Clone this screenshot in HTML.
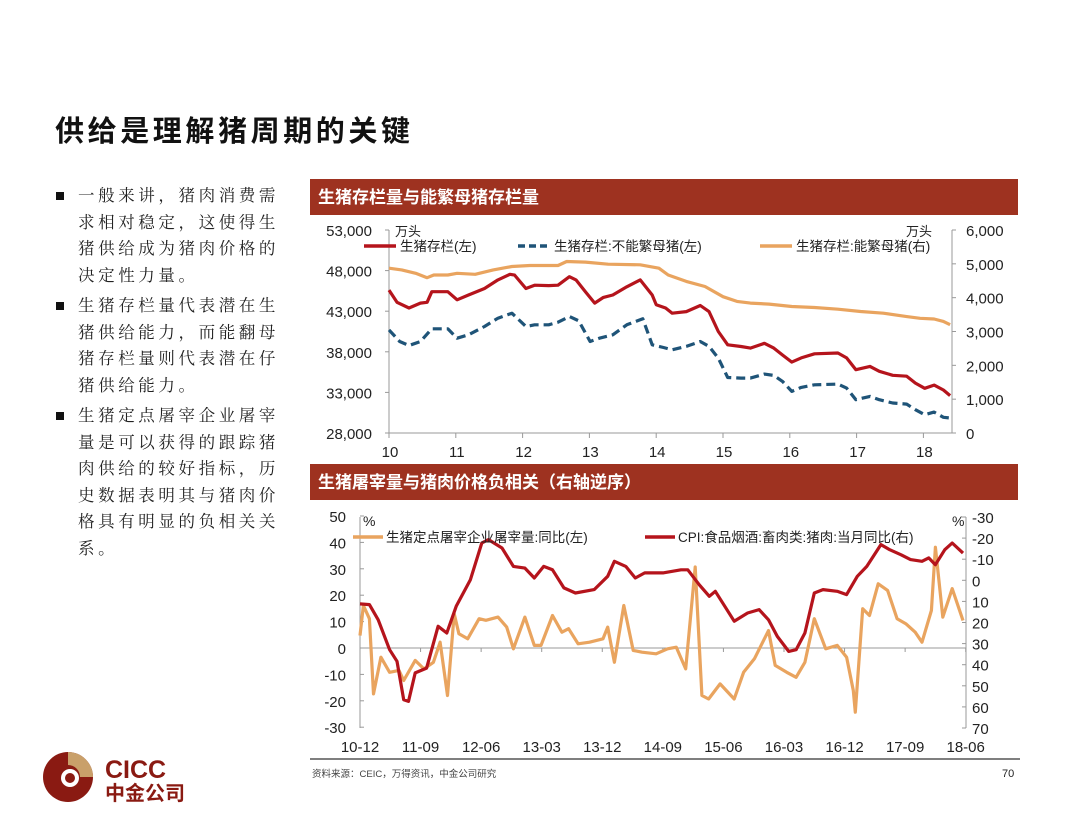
<!DOCTYPE html>
<html><head><meta charset="utf-8">
<style>
html,body{margin:0;padding:0;background:#fff;}
body{width:1080px;height:834px;overflow:hidden;position:relative;font-family:"Liberation Sans","Noto Sans CJK SC",sans-serif;}
.title{position:absolute;left:55px;top:108px;font-size:29px;font-weight:bold;color:#111;font-family:"Liberation Sans","Noto Sans CJK SC",sans-serif;letter-spacing:3.6px;}
.bullets{position:absolute;left:52px;top:183px;width:240px;font-family:"Liberation Serif","Noto Serif CJK SC",serif;font-size:16.5px;line-height:26.5px;color:#222;letter-spacing:3.6px;}
.bullets .b{position:relative;padding-left:26px;margin-bottom:4px;}
.bullets .b:before{content:"";position:absolute;left:4px;top:9px;width:8px;height:8px;background:#111;}
svg text{font-family:"Liberation Sans","Noto Sans CJK SC",sans-serif;}
</style></head><body>
<div class="title">供给是理解猪周期的关键</div>
<div class="bullets">
<div class="b">一般来讲，猪肉消费需求相对稳定，这使得生猪供给成为猪肉价格的决定性力量。</div>
<div class="b">生猪存栏量代表潜在生猪供给能力，而能翻母猪存栏量则代表潜在仔猪供给能力。</div>
<div class="b">生猪定点屠宰企业屠宰量是可以获得的跟踪猪肉供给的较好指标，历史数据表明其与猪肉价格具有明显的负相关关系。</div>
</div>
<svg id="s" width="1080" height="834" style="position:absolute;left:0;top:0">
<rect x="310" y="179" width="708" height="36" fill="#9e3220"/>
<text x="318" y="203" fill="#fff" font-size="17" font-weight="bold">生猪存栏量与能繁母猪存栏量</text>
<rect x="310" y="464" width="708" height="36" fill="#9e3220"/>
<text x="318" y="488" fill="#fff" font-size="17" font-weight="bold">生猪屠宰量与猪肉价格负相关（右轴逆序）</text>
<line x1="310" y1="759" x2="1020" y2="759" stroke="#333" stroke-width="1.2"/>
<text x="312" y="777" font-size="9.5" fill="#444">资料来源：CEIC，万得资讯，中金公司研究</text>
<text x="1002" y="777" font-size="11" fill="#222">70</text>
<g>
<circle cx="68" cy="777" r="25" fill="#8a1a12"/>
<path d="M68 752 A25 25 0 0 1 93 777 L80 777 A12 12 0 0 0 68 765 Z" fill="#c9a06a"/>
<circle cx="70" cy="778" r="9" fill="#fff"/>
<circle cx="70" cy="778" r="5" fill="#8a1a12"/>
<text x="105" y="778" font-size="25" font-weight="bold" fill="#8a1a12">CICC</text>
<text x="105" y="800" font-size="20" font-weight="bold" fill="#8a1a12">中金公司</text>
</g>
<g id="c1"></g>
<g id="c2"></g>
</svg>
<script>
// ---- Chart 1 data ----
const c1RedX=[10.00,10.12,10.30,10.47,10.57,10.64,10.88,11.02,11.19,11.43,11.63,11.81,11.88,12.05,12.18,12.39,12.53,12.70,12.80,12.94,13.08,13.21,13.35,13.56,13.76,13.94,14.00,14.14,14.24,14.45,14.66,14.79,14.93,15.07,15.27,15.41,15.62,15.76,15.89,16.03,16.17,16.37,16.72,16.85,16.99,17.20,17.34,17.54,17.75,17.88,18.02,18.16,18.30,18.40];
const c1RedY=[45600,44100,43400,44000,44100,45400,45400,44400,45000,45800,46850,47550,47450,45800,46200,46150,46200,47250,46850,45400,44000,44700,45000,46000,46850,45000,43800,43400,42750,42950,43700,42950,40500,38860,38650,38450,39050,38450,37600,36730,37250,37750,37850,37250,35800,36200,35600,35100,35000,34150,33500,33900,33300,32600];
const c1BlueX=[10.00,10.16,10.30,10.47,10.64,10.88,11.02,11.19,11.43,11.63,11.84,12.05,12.18,12.39,12.53,12.70,12.84,13.01,13.15,13.35,13.56,13.80,13.94,14.11,14.24,14.45,14.66,14.79,14.93,15.07,15.27,15.41,15.62,15.76,15.89,16.03,16.17,16.37,16.72,16.85,16.99,17.20,17.34,17.54,17.75,17.88,18.02,18.16,18.30,18.40];
const c1BlueY=[40700,39270,38780,39270,40830,40830,39680,40090,41110,42140,42750,41110,41320,41320,41640,42350,41820,39270,39680,40090,41320,42060,38860,38530,38250,38660,39270,38660,37220,34840,34760,34760,35250,35090,34350,33120,33610,33940,34020,33530,32100,32510,32100,31690,31560,30870,30250,30580,29930,29850];
const c1OrX=[10.00,10.19,10.40,10.57,10.67,10.88,11.02,11.29,11.56,11.84,12.11,12.53,12.66,12.94,13.28,13.76,14.04,14.18,14.45,14.73,15.00,15.21,15.41,15.69,16.03,16.37,16.72,17.06,17.40,17.75,17.95,18.16,18.30,18.40];
const c1OrY=[4870,4820,4720,4590,4670,4670,4720,4690,4820,4920,4950,4950,5070,5050,4990,4970,4870,4670,4480,4330,4030,3890,3840,3810,3740,3710,3660,3590,3540,3440,3390,3370,3300,3200];
const c1LeftTicks=[28000,33000,38000,43000,48000,53000];
const c1RightTicks=[0,1000,2000,3000,4000,5000,6000];
const c1YearTicks=[10,11,12,13,14,15,16,17,18];
// ---- Chart 2 data (month index from 2010-12) ----
const c2CpiM=[0,1.4,2.7,4.4,5.5,6.5,7.2,8.2,9.9,11.6,12.9,14.3,16.4,18.1,19.1,21.1,22.8,24.5,25.9,27.3,28.6,30.3,32,34.8,36.8,37.8,39.5,40.9,42.3,45,47.7,48.7,50.4,51.9,52.8,54.2,55.6,57.6,59.3,60.7,62,63.7,64.8,66.1,67.5,68.8,70.9,72.3,73.9,75.3,77.4,78.7,80.4,81.8,83.5,84.5,85.5,86.9,88,89.6];
const c2CpiV=[11.2,11.5,18.7,32.9,38.4,56.6,57.4,43.9,41.6,21.8,25,12.3,-0.3,-17.7,-19.3,-15.3,-6.6,-5.8,-1.1,-6.6,-5,3.6,6,4.4,-1.9,-9,-6.6,-1.1,-3.5,-3.5,-5,-5,2.1,7.6,5.2,12.3,19.4,15.5,13.9,18.7,26.6,33.7,32.9,25,6,4.4,5.2,6.8,-1.9,-6.6,-16.9,-14.5,-12.1,-9.8,-9,-10.6,-7.4,-14.5,-17.7,-12.9];
const c2SlM=[0,0.5,1.4,2,3.1,4.4,5.8,6.5,8.2,9.5,10.9,11.9,13,14,14.7,16,17.7,18.7,20.5,21.8,22.8,24.5,25.9,26.9,28.6,30,31,32.4,34.1,36.1,36.8,37.8,39.2,40.6,41.9,44,45.7,47,48.4,49.8,50.8,51.8,53.5,55.6,57,58.6,60.7,61.7,63.4,64.8,66.1,67.5,69.2,70.9,72.3,73.3,73.6,74.7,75.7,77,78.4,79.8,81.1,82.5,83.5,84.9,85.5,86.6,88,89.6];
const c2SlV=[4.7,16.1,11.1,-17.4,-3.5,-9.2,-8.5,-12.3,-4.7,-7.9,-5.4,2.2,-18,13,5.4,3.5,11.1,10.5,11.7,7.9,-0.3,11.7,1,1,12.3,6,7.3,1.6,2.2,3.5,7.9,-5.4,16.1,-0.9,-1.6,-2.2,-0.3,0.3,-7.9,30.7,-18,-19.3,-13.6,-19.3,-9.2,-4.1,6.6,-6.6,-9.2,-11.1,-5.4,11.1,-0.3,1,-3.5,-16.1,-24.3,14.9,12.3,24.3,21.8,11.1,9.2,6,2.2,14.2,38.2,11.7,22.5,10.4];
const c2LeftTicks=[-30,-20,-10,0,10,20,30,40,50];
const c2RightTicks=[-30,-20,-10,0,10,20,30,40,50,60,70];
const c2XLabels=['10-12','11-09','12-06','13-03','13-12','14-09','15-06','16-03','16-12','17-09','18-06'];

const NS='http://www.w3.org/2000/svg';
function mk(parent,tag,attrs,txt){const e=document.createElementNS(NS,tag);for(const k in attrs)e.setAttribute(k,attrs[k]);if(txt!==undefined)e.textContent=txt;parent.appendChild(e);return e;}
function pathD(xs,ys,fx,fy){return xs.map((x,i)=>(i?'L':'M')+fx(x).toFixed(1)+' '+fy(ys[i]).toFixed(1)).join(' ');}

// Chart 1
const g1=document.getElementById('c1');
const X1=v=>389+(v-10)*66.8;
const YL1=v=>433-(v-28000)/25000*203;
const YR1=v=>433-v/6000*203;
let e;
e=mk(g1,'path',{d:'M389 230 L389 433 L952 433 L952 230',fill:'none',stroke:'#999','stroke-width':1});


c1LeftTicks.forEach(t=>{
  e=mk(g1,'text',{x:372,y:YL1(t)+6,'font-size':15,'text-anchor':'end',fill:'#222'},t.toLocaleString('en-US'));
  
  
  mk(g1,'line',{x1:385,x2:389,y1:YL1(t),y2:YL1(t),stroke:'#999'});
});
c1RightTicks.forEach(t=>{
  e=mk(g1,'text',{x:966,y:YR1(t)+6,'font-size':15,fill:'#222'},t.toLocaleString('en-US'));
  
  
  mk(g1,'line',{x1:952,x2:956,y1:YR1(t),y2:YR1(t),stroke:'#999'});
});
c1YearTicks.forEach(t=>{
  e=mk(g1,'text',{x:X1(t)+1,y:457,'font-size':15,'text-anchor':'middle',fill:'#222'},String(t));
  
  
  mk(g1,'line',{x1:X1(t),x2:X1(t),y1:433,y2:438,stroke:'#999'});
});
e=mk(g1,'path',{d:pathD(c1OrX,c1OrY,X1,YR1),fill:'none',stroke:'#e9a45f','stroke-width':3.2,'stroke-linejoin':'round'});


e=mk(g1,'path',{d:pathD(c1BlueX,c1BlueY,X1,YL1),fill:'none',stroke:'#1f5478','stroke-width':3.2,'stroke-dasharray':'9 5','stroke-linejoin':'round'});


e=mk(g1,'path',{d:pathD(c1RedX,c1RedY,X1,YL1),fill:'none',stroke:'#b5141c','stroke-width':3.2,'stroke-linejoin':'round'});


e=mk(g1,'text',{x:395,y:236,'font-size':13,fill:'#222'},'万头');


e=mk(g1,'text',{x:906,y:236,'font-size':13,fill:'#222'},'万头');


const leg1=[[364,'#b5141c','','生猪存栏(左)'],[518,'#1f5478','7 4','生猪存栏:不能繁母猪(左)'],[760,'#e9a45f','','生猪存栏:能繁母猪(右)']];
leg1.forEach(l=>{
  e=mk(g1,'line',{x1:l[0],x2:l[0]+32,y1:246,y2:246,stroke:l[1],'stroke-width':3.5,'stroke-dasharray':l[2]||'none'});
  
  
  e=mk(g1,'text',{x:l[0]+36,y:251,'font-size':13.5,fill:'#222'},l[3]);
  
  
});

// Chart 2
const g2=document.getElementById('c2');
const X2=m=>360+m*6.73;
const YL2=v=>648-v*2.64;
const YR2=v=>517+(v+30)*2.11;
e=mk(g2,'path',{d:'M360 517 L360 728 M966 517 L966 728 M360 648 L966 648',fill:'none',stroke:'#999','stroke-width':1});


c2LeftTicks.forEach(t=>{
  e=mk(g2,'text',{x:346,y:YL2(t)+6,'font-size':15,'text-anchor':'end',fill:'#222'},String(t));
  
  
  mk(g2,'line',{x1:360,x2:364,y1:YL2(t),y2:YL2(t),stroke:'#999'});
});
c2RightTicks.forEach(t=>{
  e=mk(g2,'text',{x:972,y:YR2(t)+6,'font-size':15,fill:'#222'},String(t));
  
  
  mk(g2,'line',{x1:962,x2:966,y1:YR2(t),y2:YR2(t),stroke:'#999'});
});
c2XLabels.forEach((t,i)=>{
  e=mk(g2,'text',{x:X2(i*9),y:752,'font-size':15,'text-anchor':'middle',fill:'#222'},t);
  
  
  mk(g2,'line',{x1:X2(i*9),x2:X2(i*9),y1:648,y2:652,stroke:'#999'});
});
e=mk(g2,'path',{d:pathD(c2SlM,c2SlV,X2,YL2),fill:'none',stroke:'#e9a45f','stroke-width':3.2,'stroke-linejoin':'round'});


e=mk(g2,'path',{d:pathD(c2CpiM,c2CpiV,X2,YR2),fill:'none',stroke:'#b5141c','stroke-width':3.2,'stroke-linejoin':'round'});


e=mk(g2,'text',{x:363,y:526,'font-size':14,fill:'#222'},'%');


e=mk(g2,'text',{x:952,y:526,'font-size':14,fill:'#222'},'%');


const leg2=[[353,'#e9a45f','生猪定点屠宰企业屠宰量:同比(左)'],[645,'#b5141c','CPI:食品烟酒:畜肉类:猪肉:当月同比(右)']];
leg2.forEach(l=>{
  e=mk(g2,'line',{x1:l[0],x2:l[0]+30,y1:537,y2:537,stroke:l[1],'stroke-width':3.5});
  
  
  e=mk(g2,'text',{x:l[0]+33,y:542,'font-size':13.5,fill:'#222'},l[2]);
  
  
});
</script>
</body></html>
